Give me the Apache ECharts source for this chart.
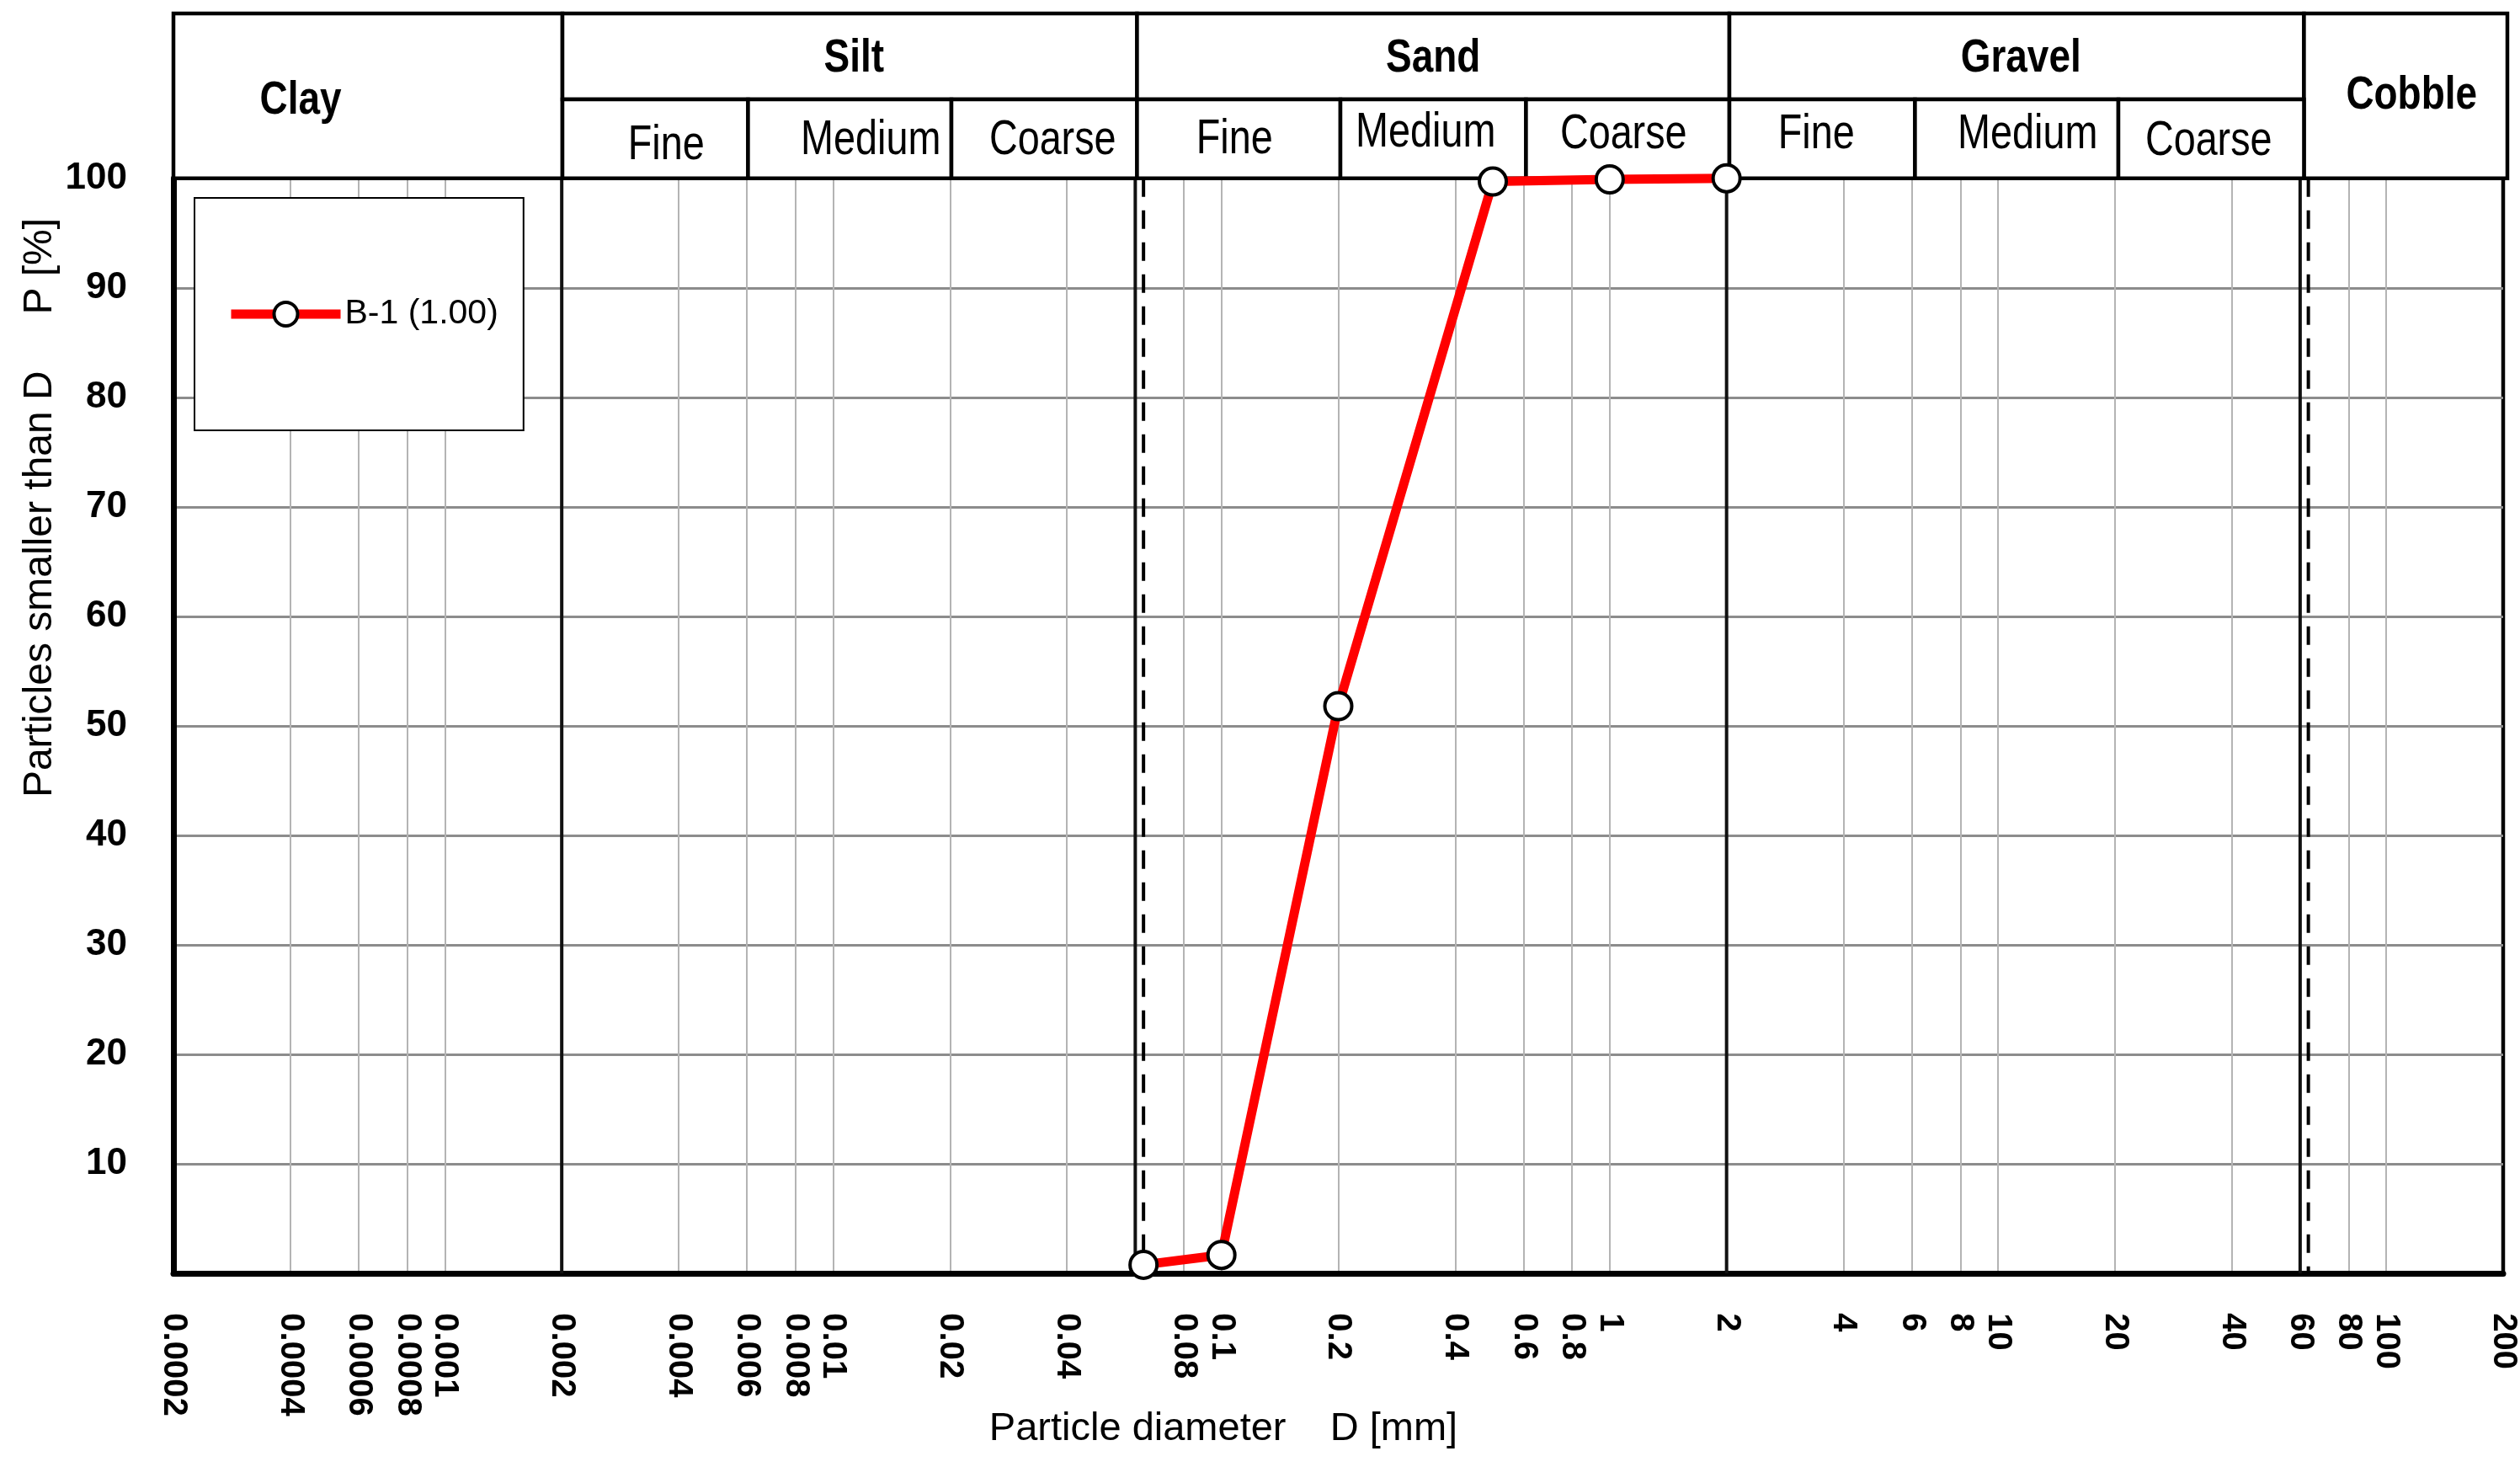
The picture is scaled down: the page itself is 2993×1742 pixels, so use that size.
<!DOCTYPE html>
<html><head><meta charset="utf-8">
<script src="https://cdn.jsdelivr.net/npm/echarts@6/dist/echarts.min.js"></script>
<style>html,body{margin:0;padding:0;background:#fff}#c{width:2993px;height:1742px}</style>
</head><body><div id="c"></div>
<script>
// ---- data ----
const seriesName = 'B-1 (1.00)';
const diameters = [0.063, 0.1, 0.2, 0.5, 1, 2];
const passing = [0.8, 1.7, 51.8, 99.7, 99.9, 100];
const xLabelValues = [0.0002,0.0004,0.0006,0.0008,0.001,0.002,0.004,0.006,0.008,0.01,0.02,0.04,0.08,0.1,0.2,0.4,0.6,0.8,1,2,4,6,8,10,20,40,60,80,100,200];
const xGridValues = [0.0004,0.0006,0.0008,0.001,0.004,0.006,0.008,0.01,0.02,0.04,0.08,0.1,0.2,0.4,0.6,0.8,1,4,6,8,10,20,40,80,100];
const boundaryValues = [0.002, 0.06, 2, 60];
const dashedValues = [0.063, 63];
const groupNames = ['Clay','Silt','Sand','Gravel','Cobble'];
const groupFrom = [0.0002, 0.002, 0.06, 2, 60];
const groupTo = [0.002, 0.06, 2, 60, 200];
const subNames = ['Fine','Medium','Coarse'];
const subBounds = { Silt:[0.002,0.006,0.02,0.06], Sand:[0.06,0.2,0.6,2], Gravel:[2,6,20,60] };
const xAxisName = 'Particle diameter    D [mm]';
const yAxisName = 'Particles smaller than D     P [%]';

// ---- styling ----
const FONT = '"Liberation Sans",Arial,sans-serif';
const NARROW_SCALE = 0.82;
const textShift = {
  'Clay':[-80,6],'Silt':[5,3],'Sand':[0,3],'Gravel':[5,3],'Cobble':[7,0],
  'Silt Fine':[13,8],'Silt Medium':[25,2],'Silt Coarse':[10,2],
  'Sand Fine':[-5,1],'Sand Medium':[-9,-7],'Sand Coarse':[-5,-5],
  'Gravel Fine':[-7,-5],'Gravel Medium':[13,-5],'Gravel Coarse':[-3,3]
};

const cells = [];
groupNames.forEach((g,i)=>{
  const subs = subBounds[g];
  cells.push({key:g,label:g,from:groupFrom[i],to:groupTo[i],level: subs?'top':'full',bold:true});
});
groupNames.forEach(g=>{
  const subs = subBounds[g];
  if(!subs) return;
  subNames.forEach((s,j)=>cells.push({key:g+' '+s,label:s,from:subs[j],to:subs[j+1],level:'bottom',bold:false}));
});
const refLines = boundaryValues.map(v=>({v:v, dashed:false})).concat(dashedValues.map(v=>({v:v, dashed:true})));

function fmt(v){ return String(Number(Number(v).toPrecision(6))); }

const chart = echarts.init(document.getElementById('c'), null, {renderer:'canvas'});

chart.setOption({
  animation:false,
  backgroundColor:'#fff',
  grid:[
    {left:206, right:15, top:211.7, bottom:229.7, show:true, borderColor:'#000', borderWidth:4.5, backgroundColor:'transparent'},
    {left:206, right:15, top:16, height:195.7}
  ],
  xAxis:[
    {type:'log', logBase:10, min:0.0002, max:200, gridIndex:0,
     axisLine:{show:true, onZero:false, lineStyle:{color:'#000', width:7}},
     axisTick:{show:false, customValues:xGridValues},
     splitLine:{show:true, lineStyle:{color:'#b4b4b4', width:2}},
     axisLabel:{customValues:xLabelValues, rotate:-90, margin:47, color:'#000', fontFamily:FONT, fontWeight:'bold', fontSize:40, formatter:fmt}
    },
    {type:'log', logBase:10, min:0.0002, max:200, gridIndex:1, show:false}
  ],
  yAxis:[
    {type:'value', min:0, max:100, interval:10, gridIndex:0,
     axisLine:{show:true, lineStyle:{color:'#000', width:7}},
     axisTick:{show:false},
     splitLine:{show:true, lineStyle:{color:'#8c8c8c', width:3}},
     axisLabel:{margin:55, color:'#000', fontFamily:FONT, fontWeight:'bold', fontSize:44, formatter:v=> v===0?'':String(v)}
    },
    {type:'value', min:0, max:1, gridIndex:1, show:false}
  ],
  legend:{
    data:[seriesName], left:231, top:235, orient:'vertical',
    backgroundColor:'#fff', borderColor:'#000', borderWidth:2,
    padding:[114,30,114,38],
    itemWidth:130, itemHeight:35, itemGap:0,
    lineStyle:{color:'#ff0000', width:11},
    itemStyle:{color:'#fff', borderColor:'#000', borderWidth:4},
    textStyle:{color:'#000', fontFamily:FONT, fontSize:41, width:180, lineHeight:48}
  },
  graphic:[
    {type:'text', x:1453, y:1697, style:{text:xAxisName, fill:'#000', font:'47px '+FONT, align:'center', verticalAlign:'middle'}},
    {type:'text', x:48, y:603, rotation:Math.PI/2, style:{text:yAxisName, fill:'#000', font:'48px '+FONT, align:'center', verticalAlign:'middle'}}
  ],
  series:[
    {type:'custom', name:'bounds', xAxisIndex:0, yAxisIndex:0, z:1, silent:true,
     data: refLines.map(r=>[r.v]),
     encode:{x:0},
     renderItem:function(params, api){
       const r = refLines[params.dataIndex];
       const x = api.coord([r.v, 0])[0];
       const cs = params.coordSys;
       return {type:'line', shape:{x1:x, y1:cs.y, x2:x, y2:cs.y+cs.height},
         style: r.dashed ? {stroke:'#000', lineWidth:4, lineDash:[22,16]} : {stroke:'#111', lineWidth:4}};
     }
    },
    {type:'custom', name:'header', xAxisIndex:1, yAxisIndex:1, z:3, silent:true,
     data: cells.map(c=>[c.from, c.to]),
     encode:{x:[0,1]},
     renderItem:function(params, api){
       const c = cells[params.dataIndex];
       const x0 = api.coord([c.from, 0])[0], x1 = api.coord([c.to, 0])[0];
       const cs = params.coordSys;
       const yTop = cs.y, yBot = cs.y + cs.height, ySplit = cs.y + cs.height*0.5215;
       let y0, y1;
       if (c.level==='full'){y0=yTop;y1=yBot;} else if (c.level==='top'){y0=yTop;y1=ySplit;} else {y0=ySplit;y1=yBot;}
       const sh = textShift[c.key] || [0,0];
       return {type:'group', children:[
         {type:'rect', shape:{x:x0,y:y0,width:x1-x0,height:y1-y0}, style:{fill:'#fff', stroke:'#000', lineWidth:4.5}},
         {type:'text', x:(x0+x1)/2+sh[0], y:(y0+y1)/2+sh[1], scaleX:NARROW_SCALE,
          style:{text:c.label, x:0, y:0, align:'center', verticalAlign:'middle',
           fill:'#000', fontFamily:FONT, fontWeight:c.bold?'bold':'normal', fontSize:c.bold?56:57}}
       ]};
     }
    },
    {type:'line', name:seriesName, xAxisIndex:0, yAxisIndex:0, z:4,
     data: diameters.map((d,i)=>[d, passing[i]]),
     symbol:'circle', symbolSize:32, showAllSymbol:true, clip:false,
     lineStyle:{color:'#ff0000', width:11},
     itemStyle:{color:'#fff', borderColor:'#000', borderWidth:4},
     emphasis:{disabled:true}
    }
  ]
});
</script></body></html>
